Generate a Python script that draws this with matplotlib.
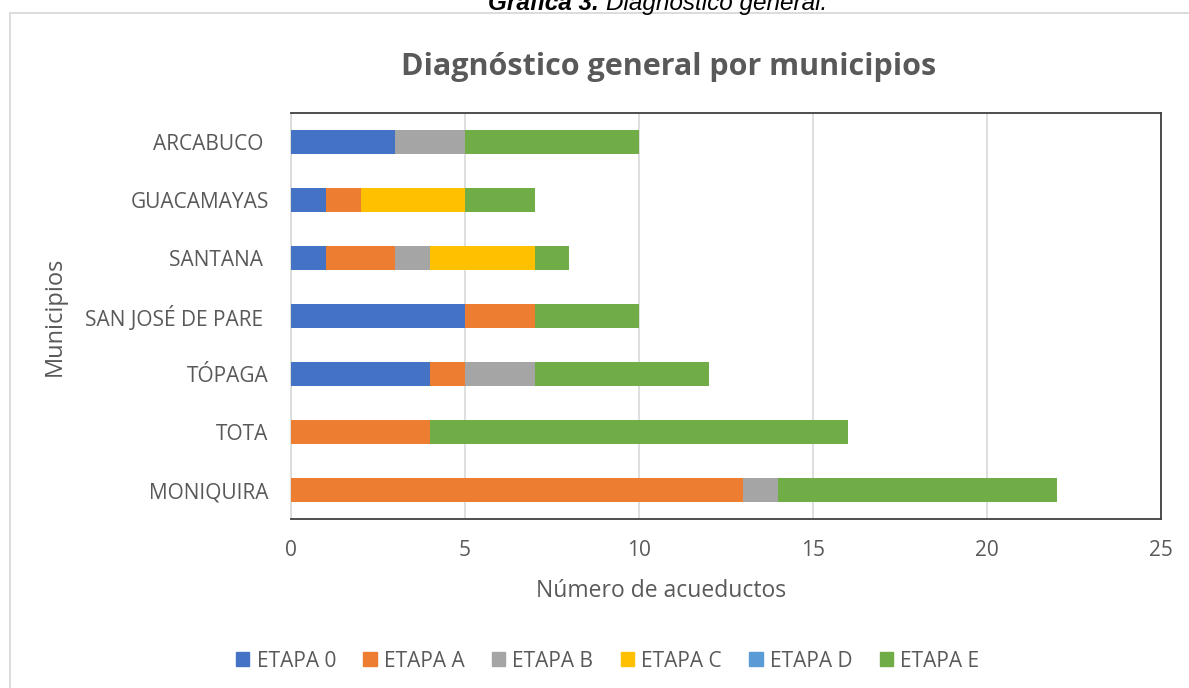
import numpy as np
import matplotlib.pyplot as plt
from matplotlib.patches import Rectangle, Patch

municipios = ['ARCABUCO ', 'GUACAMAYAS', 'SANTANA ', 'SAN JOSÉ DE PARE ', 'TÓPAGA', 'TOTA', 'MONIQUIRA']
etapa_0 = [3, 1, 1, 5, 4, 0, 0]
etapa_a = [0, 1, 2, 2, 1, 4, 13]
etapa_b = [2, 0, 1, 0, 2, 0, 1]
etapa_c = [0, 3, 3, 0, 0, 0, 0]
etapa_d = [0, 0, 0, 0, 0, 0, 0]
etapa_e = [5, 2, 1, 3, 5, 12, 8]
series = ['ETAPA 0', 'ETAPA A', 'ETAPA B', 'ETAPA C', 'ETAPA D', 'ETAPA E']
colors = ['#4472c4', '#ed7d31', '#a5a5a5', '#ffc000', '#5b9bd5', '#70ad47']

plt.rcParams['font.family'] = ['Open Sans', 'DejaVu Sans']
txt = '#595959'

fig = plt.figure(figsize=(11.89, 6.88), dpi=100)
ax = fig.add_axes([0.2447, 0.2456, 0.7318, 0.5902])

y = np.arange(len(municipios))[::-1]
left = np.zeros(len(municipios))
for name, vals, c in zip(series, [etapa_0, etapa_a, etapa_b, etapa_c, etapa_d, etapa_e], colors):
    vals = np.array(vals, dtype=float)
    ax.barh(y, vals, left=left, height=0.4, color=c, label=name, zorder=3)
    left += vals

ax.set_xlim(0, 25)
ax.set_ylim(-0.5, len(municipios) - 0.5)
ax.set_xticks([0, 5, 10, 15, 20, 25])
ax.set_yticks(y)
ax.set_yticklabels(municipios)
ax.tick_params(length=0, labelsize=15, colors=txt)
ax.tick_params(axis='x', pad=15)
ax.tick_params(axis='y', pad=16)
ax.grid(axis='x', color='#d9d9d9', lw=1.2, zorder=0)
for s in ['top', 'right', 'bottom']:
    ax.spines[s].set_color('#404040')
    ax.spines[s].set_linewidth(1.3)
ax.spines['left'].set_color('#d9d9d9')
ax.spines['left'].set_linewidth(1.2)

ax.set_xlabel('Número de acueductos', fontsize=16.5, color=txt)
ax.xaxis.set_label_coords(0.425, -0.148)
ax.set_ylabel('Municipios', fontsize=17, color=txt, labelpad=13)
fig.text(0.562, 0.902, 'Diagnóstico general por municipios', ha='center', va='center',
         fontsize=22, fontweight='bold', color=txt)

handles = [Patch(color=c) for c in colors]
fig.legend(handles, series, loc='center', bbox_to_anchor=(0.511, 0.039), ncol=6, frameon=False,
           fontsize=15, labelcolor=txt, handlelength=0.65, handleheight=0.65, handletextpad=0.35,
           columnspacing=1.3)

fig.patches.append(Rectangle((10 / 1189, -0.01), 1.05, 1 - 13 / 688 + 0.01, transform=fig.transFigure,
                             fill=False, edgecolor='#d9d9d9', lw=1.3, clip_on=False))
fig.text(0.5035, 0.995, 'Gráfica 3.', ha='right', va='center', fontsize=17.5,
         family='Liberation Sans', style='italic', fontweight='bold', color='black')
fig.text(0.5095, 0.995, 'Diagnóstico general.', ha='left', va='center', fontsize=17.5,
         family='Liberation Sans', style='italic', color='black')

fig.savefig('out.png', dpi=100)
